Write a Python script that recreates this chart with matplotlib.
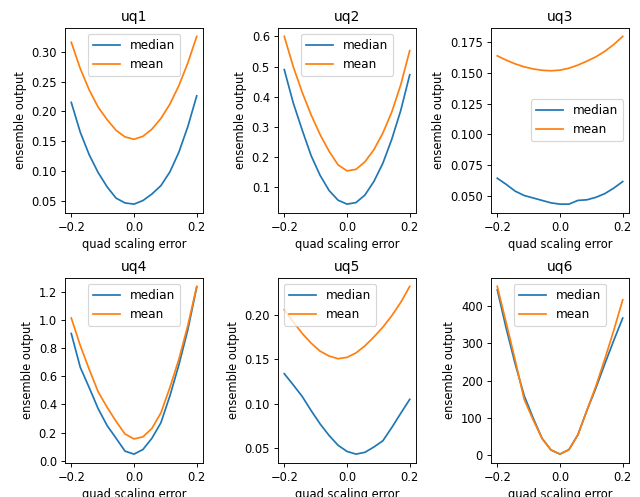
import numpy as np
import matplotlib
matplotlib.use("Agg")
import matplotlib.pyplot as plt
from matplotlib.ticker import MultipleLocator

# quad scaling errors scanned
scaling_error = np.linspace(-0.2, 0.2, 15)

titles = ["uq1", "uq2", "uq3", "uq4", "uq5", "uq6"]

median_uq1 = [0.215, 0.165, 0.127, 0.097, 0.073, 0.054, 0.046, 0.044,
              0.050, 0.061, 0.075, 0.098, 0.131, 0.174, 0.226]
mean_uq1 = [0.316, 0.272, 0.236, 0.207, 0.186, 0.168, 0.157, 0.153,
            0.158, 0.170, 0.188, 0.212, 0.243, 0.281, 0.326]

median_uq2 = [0.49, 0.38, 0.29, 0.205, 0.14, 0.09, 0.058, 0.045,
              0.05, 0.075, 0.12, 0.18, 0.26, 0.355, 0.473]
mean_uq2 = [0.60, 0.50, 0.415, 0.34, 0.275, 0.22, 0.175, 0.155,
            0.16, 0.185, 0.225, 0.28, 0.35, 0.44, 0.553]

median_uq3 = [0.0645, 0.0595, 0.054, 0.0505, 0.0485, 0.0465, 0.0445, 0.0435,
              0.0435, 0.0465, 0.047, 0.049, 0.052, 0.0565, 0.0618]
mean_uq3 = [0.1638, 0.1603, 0.1573, 0.1549, 0.1532, 0.1521, 0.1517, 0.1522,
            0.1538, 0.1563, 0.1595, 0.163, 0.1675, 0.173, 0.1796]

median_uq4 = [0.905, 0.665, 0.52, 0.37, 0.25, 0.16, 0.068, 0.047,
              0.08, 0.16, 0.27, 0.46, 0.68, 0.93, 1.235]
mean_uq4 = [1.015, 0.82, 0.65, 0.49, 0.38, 0.28, 0.19, 0.155,
            0.17, 0.23, 0.34, 0.52, 0.72, 0.96, 1.24]

median_uq5 = [0.1336, 0.121, 0.108, 0.092, 0.077, 0.064, 0.053, 0.046,
              0.043, 0.045, 0.051, 0.058, 0.073, 0.089, 0.1047]
mean_uq5 = [0.2056, 0.192, 0.179, 0.168, 0.159, 0.1535, 0.1505, 0.152,
            0.157, 0.165, 0.175, 0.186, 0.199, 0.214, 0.232]

median_uq6 = [444, 340, 245, 160, 100, 45, 14, 3,
              15, 55, 120, 180, 245, 308, 368]
mean_uq6 = [453, 355, 255, 150, 95, 45, 14, 3,
            15, 55, 120, 185, 258, 335, 417]

medians = [median_uq1, median_uq2, median_uq3, median_uq4, median_uq5, median_uq6]
means = [mean_uq1, mean_uq2, mean_uq3, mean_uq4, mean_uq5, mean_uq6]
legend_locs = ["upper center", "upper center", "center right",
               "upper center", "upper left", "upper center"]

W, H, DPI = 640, 497, 83
fig = plt.figure(figsize=(W / DPI, H / DPI), dpi=DPI)

lefts = [65, 278, 491]
tops = [28, 278]
ax_w, ax_h = 138, 184.5

for i in range(6):
    r, c = divmod(i, 3)
    x0 = lefts[c] / W
    y0 = 1 - (tops[r] + ax_h) / H
    ax = fig.add_axes([x0, y0, ax_w / W, ax_h / H])
    ax.plot(scaling_error, medians[i], color="#1f77b4", label="median")
    ax.plot(scaling_error, means[i], color="#ff7f0e", label="mean")
    ax.set_title(titles[i])
    ax.set_xlabel("quad scaling error")
    ax.set_ylabel("ensemble output")
    if titles[i] == "uq3":
        ax.yaxis.set_major_locator(MultipleLocator(0.025))
    ax.legend(loc=legend_locs[i], fontsize=10.4, handlelength=2.3)

fig.savefig("out.png", dpi=DPI)
